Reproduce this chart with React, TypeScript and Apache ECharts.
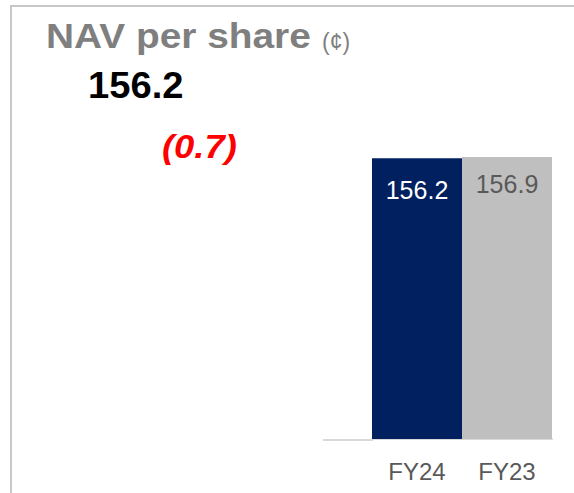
import React, { useEffect, useRef } from "react";
import * as echarts from "echarts";

const categories = ["FY24", "FY23"];
const values = [156.2, 156.9];
const barColors = ["#002060", "#bfbfbf"];
const labelColors = ["#ffffff", "#595959"];
const labelOffsets = [32, 27];
const titleText = "NAV per share";
const unitText = "(¢)";
const headlineValue = "156.2";
const changeText = "(0.7)";

export default function App() {
  const ref = useRef<HTMLDivElement>(null);
  useEffect(() => {
    if (!ref.current) return;
    const chart = echarts.init(ref.current, null, { renderer: "svg" });
    const font = "'Liberation Sans', Arial, sans-serif";
    chart.setOption({
      animation: false,
      backgroundColor: "#ffffff",
      grid: { left: 372, right: 22, top: 157, bottom: 54, containLabel: false },
      xAxis: {
        type: "category",
        data: categories,
        boundaryGap: true,
        axisLine: { show: true, lineStyle: { color: "#d9d9d9", width: 2 } },
        axisTick: { show: false },
        axisLabel: {
          color: "#595959",
          fontSize: 24,
          fontFamily: font,
          margin: 20,
        },
        splitLine: { show: false },
      },
      yAxis: {
        type: "value",
        min: 0,
        max: 156.9,
        show: false,
        splitLine: { show: false },
      },
      series: [
        {
          type: "bar",
          barCategoryGap: "0%",
          barWidth: "100%",
          data: values.map((v, i) => ({
            value: v,
            itemStyle: { color: barColors[i] },
            label: {
              show: true,
              position: ["50%", labelOffsets[i]],
              align: "center",
              verticalAlign: "middle",
              color: labelColors[i],
              fontSize: 25,
              fontFamily: font,
              formatter: () => v.toFixed(1),
            },
          })),
        },
      ],
      graphic: [
        {
          type: "rect",
          shape: { x: 11, y: 6, width: 700, height: 700 },
          style: { fill: "none", stroke: "#c8c8c8", lineWidth: 2 },
          silent: true,
        },
        {
          type: "line",
          shape: { x1: 323, y1: 440, x2: 373, y2: 440 },
          style: { stroke: "#d9d9d9", lineWidth: 2 },
          silent: true,
        },
        {
          type: "text",
          x: 46,
          y: 36,
          scaleX: 1.11,
          style: {
            text: titleText,
            fill: "#7f7f7f",
            fontSize: 35,
            fontWeight: "bold",
            fontFamily: font,
            align: "left",
            verticalAlign: "middle",
          },
        },
        {
          type: "text",
          x: 322,
          y: 42,
          style: {
            text: unitText,
            fill: "#7f7f7f",
            fontSize: 23,
            fontWeight: "normal",
            fontFamily: font,
            align: "left",
            verticalAlign: "middle",
          },
        },
        {
          type: "text",
          x: 88,
          y: 85,
          scaleX: 1.06,
          style: {
            text: headlineValue,
            fill: "#000000",
            fontSize: 36,
            fontWeight: "bold",
            fontFamily: font,
            align: "left",
            verticalAlign: "middle",
          },
        },
        {
          type: "text",
          x: 162,
          y: 146,
          scaleX: 1.07,
          style: {
            text: changeText,
            fill: "#ff0000",
            fontSize: 34,
            fontWeight: "bold",
            fontStyle: "italic",
            fontFamily: font,
            align: "left",
            verticalAlign: "middle",
          },
        },
      ],
    });
    return () => chart.dispose();
  }, []);
  return (
    <div
      ref={ref}
      style={{ position: "fixed", left: 0, top: 0, width: 574, height: 493 }}
    />
  );
}
